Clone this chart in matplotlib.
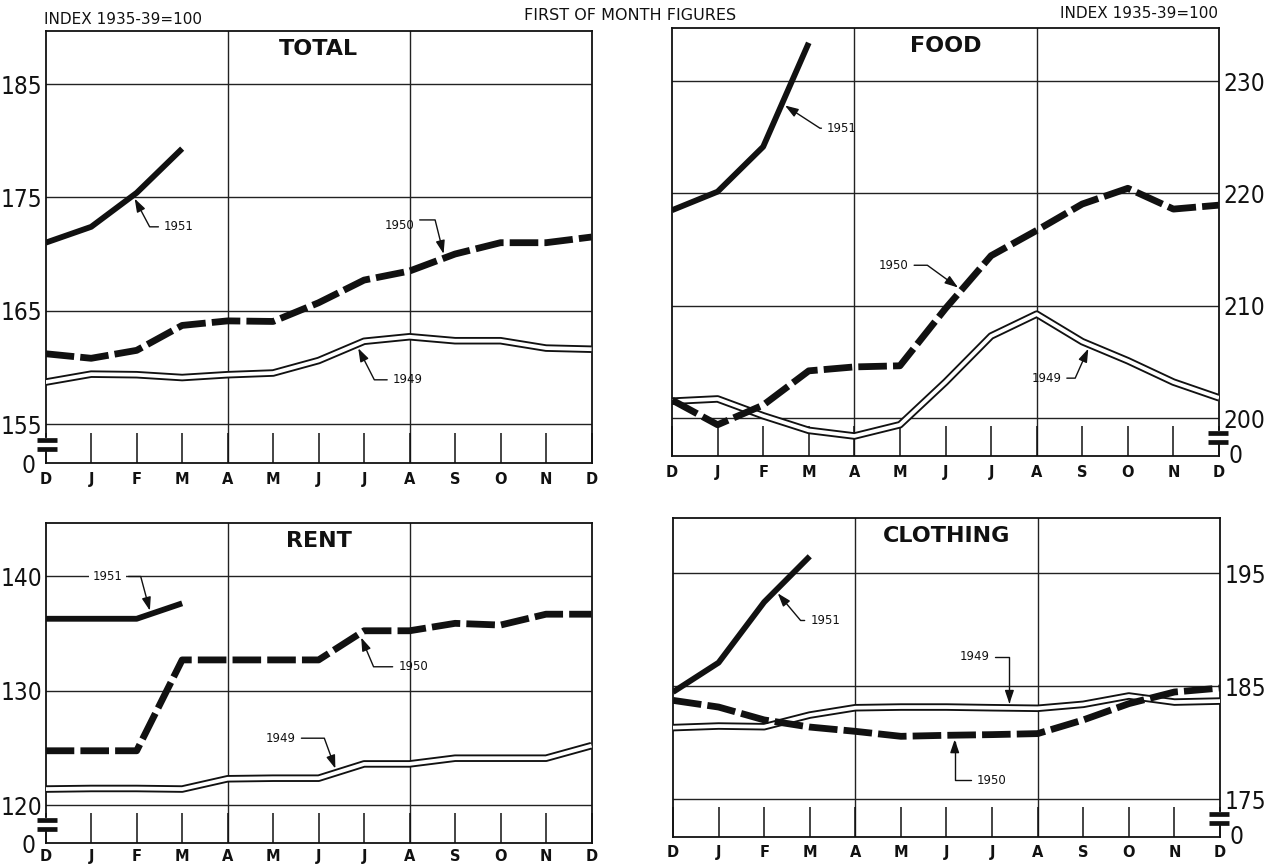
import numpy as np
import matplotlib
matplotlib.use('Agg')
import matplotlib.pyplot as plt
from matplotlib import font_manager as fm
from matplotlib import transforms

# ---------------- data ----------------
months = ['D', 'J', 'F', 'M', 'A', 'M', 'J', 'J', 'A', 'S', 'O', 'N', 'D']

total_1949 = [158.7, 159.4, 159.35, 159.1, 159.35, 159.5, 160.6, 162.3, 162.7, 162.35, 162.35, 161.7, 161.6]
total_1950 = [161.2, 160.8, 161.5, 163.7, 164.1, 164.05, 165.7, 167.7, 168.5, 170.0, 171.0, 171.0, 171.5]
total_1951 = [171.0, 172.4, 175.4, 179.3]

food_1949 = [201.5, 201.7, 200.2, 198.9, 198.4, 199.4, 203.2, 207.3, 209.25, 206.8, 205.1, 203.2, 201.8]
food_1950 = [201.6, 199.4, 201.15, 204.2, 204.55, 204.65, 209.75, 214.45, 216.7, 219.05, 220.45, 218.6, 218.95]
food_1951 = [218.5, 220.15, 224.15, 233.4]

rent_1949 = [121.4, 121.45, 121.45, 121.4, 122.3, 122.35, 122.35, 123.6, 123.6, 124.1, 124.1, 124.1, 125.2]
rent_1950 = [124.75, 124.75, 124.75, 132.7, 132.7, 132.7, 132.7, 135.25, 135.25, 135.9, 135.75, 136.7, 136.7]
rent_1951 = [136.3, 136.3, 136.3, 137.65]

cloth_1949 = [181.32, 181.46, 181.4, 182.43, 183.08, 183.14, 183.14, 183.08, 183.03, 183.38, 184.12, 183.58, 183.67]
cloth_1950 = [183.73, 183.14, 182.0, 181.37, 180.99, 180.55, 180.64, 180.7, 180.79, 182.0, 183.44, 184.47, 184.82]
cloth_1951 = [184.47, 187.07, 192.43, 196.48]

total_ticks = [155, 165, 175, 185]
food_ticks = [200, 210, 220, 230]
rent_ticks = [120, 130, 140]
cloth_ticks = [175, 185, 195]

# ---------------- fonts ----------------
def pick_narrow():
    cands = [('Liberation Sans Narrow', 'normal', 19),
             ('DejaVu Sans', 'condensed', 17.5),
             ('Roboto Condensed', 'normal', 18),
             ('Open Sans', 'condensed', 17),
             ('Noto Sans', 'condensed', 17)]
    for fam, st, size in cands:
        try:
            path = fm.findfont(fm.FontProperties(family=fam, stretch=st),
                               fallback_to_default=False)
        except Exception:
            continue
        low = path.lower()
        if 'narrow' in low or 'condensed' in low or 'cond' in low:
            return fm.FontProperties(family=fam, stretch=st, size=size)
    return fm.FontProperties(family='DejaVu Sans', size=15)


NUM_FP = pick_narrow()

plt.rcParams['font.family'] = ['DejaVu Sans']

W, H = 1277, 865
fig = plt.figure(figsize=(W / 100, H / 100), dpi=100)
fig.patch.set_facecolor('white')

INK = '#111111'


def rect(l, r, t, b):
    return [l / W, 1 - b / H, (r - l) / W, (b - t) / H]


def make_panel(r, ylim, yticks, title, side, s49, s50, s51, labels, xpad):
    ax = fig.add_axes(rect(*r))
    xs = np.arange(len(months))
    ax.set_xlim(0, len(months) - 1)
    ax.set_ylim(*ylim)
    for sp in ax.spines.values():
        sp.set_linewidth(1.3)
        sp.set_color(INK)
    # grid
    ax.set_yticks(yticks)
    ax.set_yticklabels([str(t) for t in yticks], fontproperties=NUM_FP)
    ax.grid(axis='y', color='#222222', linewidth=1.0, zorder=1)
    for q in (4, 8):
        ax.axvline(q, color='#222222', linewidth=1.0, zorder=1)
    ax.set_xticks(xs)
    ax.set_xticklabels(months, fontsize=10.5, fontweight='bold')
    ax.tick_params(axis='x', direction='in', length=21.6, width=1.1, pad=xpad, colors=INK)
    ax.tick_params(axis='y', length=0, pad=2.5, colors=INK)
    if side == 'right':
        ax.yaxis.tick_right()
        ax.tick_params(axis='y', labelleft=False, labelright=True, length=0, pad=3)

    # series
    x49 = np.arange(len(s49))
    ax.plot(x49, s49, color=INK, lw=5.4, solid_joinstyle='round', solid_capstyle='butt', zorder=3)
    ax.plot(x49, s49, color='white', lw=2.7, solid_joinstyle='round', solid_capstyle='butt', zorder=3.1)
    x50 = np.arange(len(s50))
    ax.plot(x50, s50, color=INK, lw=4.9, dashes=(4.2, 0.9), dash_capstyle='butt',
            dash_joinstyle='round', zorder=4)
    x51 = np.arange(len(s51))
    ax.plot(x51, s51, color=INK, lw=4.2, solid_joinstyle='round', solid_capstyle='butt', zorder=5)

    # title
    ax.annotate(title, xy=(0.5, 1), xycoords='axes fraction', xytext=(0, -13),
                textcoords='offset points', ha='center', va='center',
                fontsize=16, fontweight='bold', color=INK, zorder=6)

    # axis break symbol + zero label
    blend = transforms.blended_transform_factory(ax.transAxes, ax.transData)
    width_px = r[1] - r[0]
    low = yticks[0]
    gap = low - ylim[0]
    yb1 = low - 0.40 * gap
    yb2 = low - 0.64 * gap
    if side == 'left':
        xa, xb, xs0 = -9 / width_px, 11 / width_px, 0.0
    else:
        xa, xb, xs0 = 1 - 11 / width_px, 1 + 9 / width_px, 1.0
    ax.plot([xs0, xs0], [yb1, yb2], transform=blend, color='white', lw=3, clip_on=False, zorder=7)
    for yb in (yb1, yb2):
        ax.plot([xa, xb], [yb, yb], transform=blend, color=INK, lw=3.4,
                solid_capstyle='butt', clip_on=False, zorder=8)
    if side == 'left':
        ax.annotate('0', xy=(0, ylim[0]), xycoords=blend, xytext=(-7.5, -2.5),
                    textcoords='offset points', ha='right', va='center',
                    fontproperties=NUM_FP, color=INK)
    else:
        ax.annotate('0', xy=(1, ylim[0]), xycoords=blend, xytext=(6.5, 0),
                    textcoords='offset points', ha='left', va='center',
                    fontproperties=NUM_FP, color=INK)

    # series labels with leaders
    for (txt, series, tip_m, text_m, text_v, ha, angB, rel_y, shrinkB, box) in labels:
        tip_v = float(np.interp(tip_m, np.arange(len(series)), series))
        relx = 0 if ha == 'left' else 1
        kw = {}
        if box:
            kw['bbox'] = dict(boxstyle='square,pad=0.3', fc='white', ec='none')
        ax.annotate(txt, xy=(tip_m, tip_v), xytext=(text_m, text_v), ha=ha, va='center',
                    fontsize=8.5, color=INK, zorder=9,
                    arrowprops=dict(arrowstyle='-|>,head_length=0.5,head_width=0.17',
                                    connectionstyle=f'angle,angleA=0,angleB={angB},rad=0',
                                    relpos=(relx, rel_y), shrinkA=2, shrinkB=shrinkB,
                                    lw=1.0, color=INK, mutation_scale=16),
                    **kw)
    return ax


make_panel((45.7, 591.5, 31, 463), (151.56, 189.68), total_ticks, 'TOTAL', 'left',
           total_1949, total_1950, total_1951,
           [('1951', total_1951, 1.92, 2.6, 172.4, 'left', -62, 0.5, 2.5, False),
            ('1950', total_1950, 8.77, 8.1, 172.55, 'right', -76, 0.9, 3, False),
            ('1949', total_1949, 6.83, 7.63, 158.9, 'left', -63, 0.5, 3, False)], 6.5)

make_panel((672, 1219, 28, 456), (196.62, 234.72), food_ticks, 'FOOD', 'right',
           food_1949, food_1950, food_1951,
           [('1951', food_1951, 2.415, 3.4, 225.8, 'left', -33, 0.5, 2.5, False),
            ('1950', food_1950, 6.35, 5.19, 213.6, 'right', -36, 0.5, 3, False),
            ('1949', food_1949, 9.17, 8.54, 203.55, 'right', 66, 0.5, 3, False)], 6.5)

make_panel((45.7, 591.5, 523, 843), (116.68, 144.68), rent_ticks, 'RENT', 'left',
           rent_1949, rent_1950, rent_1951,
           [('1951', rent_1951, 2.31, 1.68, 140.0, 'right', -75, 0.5, 2.5, True),
            ('1950', rent_1950, 6.9, 7.75, 132.1, 'left', -67, 0.5, 3, False),
            ('1949', rent_1949, 6.4, 5.5, 125.85, 'right', -70, 0.5, 3, False)], 4.5)

make_panel((673, 1220, 518, 837), (171.64, 199.87), cloth_ticks, 'CLOTHING', 'right',
           cloth_1949, cloth_1950, cloth_1951,
           [('1951', cloth_1951, 2.25, 3.01, 190.8, 'left', -50, 0.5, 2.5, False),
            ('1949', cloth_1949, 7.38, 6.94, 187.57, 'right', -90, 0.5, 3, False),
            ('1950', cloth_1950, 6.18, 6.67, 176.65, 'left', 90, 0.5, 3, False)], 5.5)

# headers
fig.text(44 / W, 1 - 19 / H, 'INDEX 1935-39=100', ha='left', va='center', fontsize=11, color=INK)
fig.text(630 / W, 1 - 16 / H, 'FIRST OF MONTH FIGURES', ha='center', va='center', fontsize=11.5, color=INK)
fig.text(1218 / W, 1 - 13 / H, 'INDEX 1935-39=100', ha='right', va='center', fontsize=11, color=INK)

fig.savefig('out.png', dpi=100, facecolor='white')
